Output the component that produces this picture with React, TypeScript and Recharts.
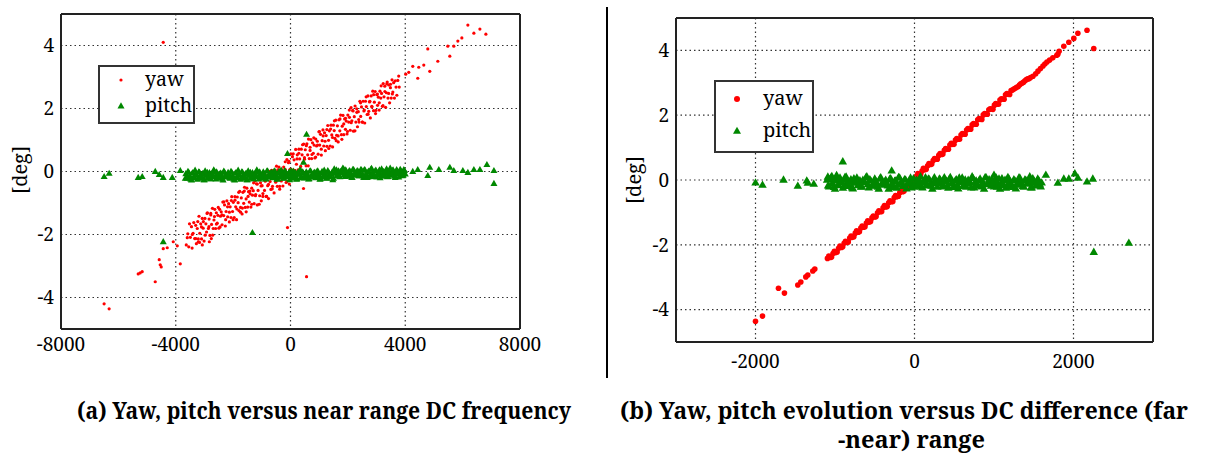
import React from 'react';
import { ScatterChart, Scatter, XAxis, YAxis, CartesianGrid, Legend } from 'recharts';

const YAW_COLOR = '#ff0000';
const PITCH_COLOR = '#008800';
const SERIF = "'Noto Serif', 'Liberation Serif', 'DejaVu Serif', serif";

// ---------- Panel (a) ----------
const A_X_LABEL_TICKS = [-8000, -4000, 0, 4000, 8000];
const A_X_MINOR_TICKS = [-7000, -6000, -5000, -3000, -2000, -1000, 1000, 2000, 3000, 5000, 6000, 7000];
const A_Y_LABEL_TICKS = [-4, -2, 0, 2, 4];
const A_Y_MINOR_TICKS = [-4.8, -4.4, -3.6, -3.2, -2.8, -2.4, -1.6, -1.2, -0.8, -0.4, 0.4, 0.8, 1.2, 1.6, 2.4, 2.8, 3.2, 3.6, 4.4, 4.8];

const A_YAW: [number, number][] = [
  [-6497, -4.2], [-6322, -4.36], [-5309, -3.25], [-5240, -3.22], [-5170, -3.18], [-4715, -3.5], [-4576, -2.8], [-4541, -2.96],
  [-4506, -3.03], [-4436, -2.45], [-4297, -2.42], [-4087, -2.23], [-3947, -2.36], [-3842, -2.93], [-3633, -2.33], [-3598, -2.1],
  [-3423, -2.0], [-3214, -2.23], [-3074, -2.33], [-2829, -2.23], [-2760, -2.13], [-4436, 4.1], [-105, -1.78], [454, -0.54], [559, -3.34],
  [3772, 3.03], [4017, 3.09], [4122, 3.15], [4262, 3.34], [4436, 2.96], [4471, 3.31], [4646, 3.38], [4785, 3.89],
  [4855, 3.18], [5135, 3.5], [5484, 3.98], [5554, 3.66], [5693, 3.98], [5833, 4.14], [5973, 4.24], [6183, 4.65],
  [6392, 4.39], [6602, 4.52], [6811, 4.36],
  [-3580, -1.98], [-3547, -2.39], [-3521, -1.66], [-3490, -2.09], [-3452, -1.75], [-3430, -2.43], [-3396, -1.96], [-3371, -1.62],
  [-3340, -2.13], [-3305, -1.71], [-3281, -2.29], [-3250, -1.81], [-3214, -2.14], [-3190, -1.42], [-3162, -1.96], [-3130, -1.66],
  [-3101, -2.14], [-3075, -1.49], [-3044, -1.8], [-3012, -2.21], [-2983, -1.49], [-2950, -1.66], [-2927, -1.92], [-2896, -1.31],
  [-2862, -1.81], [-2838, -1.51], [-2809, -2.03], [-2780, -1.33], [-2752, -1.68], [-2721, -1.17], [-2694, -1.81], [-2668, -1.54],
  [-2640, -1.2], [-2611, -1.81], [-2585, -1.31], [-2553, -1.64], [-2530, -1.39], [-2498, -1.8], [-2470, -1.2], [-2441, -1.42],
  [-2415, -1.28], [-2386, -1.69], [-2359, -0.97], [-2327, -1.4], [-2300, -1.06], [-2272, -1.73], [-2245, -1.27], [-2217, -0.93],
  [-2190, -1.44], [-2158, -1.02], [-2131, -1.6], [-2104, -1.12], [-2075, -1.46], [-2048, -0.8], [-2020, -1.27], [-1994, -0.98],
  [-1963, -1.46], [-1937, -0.8], [-1910, -1.12], [-1881, -1.53], [-1855, -0.81], [-1826, -0.99], [-1799, -1.24], [-1770, -0.63],
  [-1742, -1.14], [-1715, -0.84], [-1688, -1.35], [-1659, -0.66], [-1631, -1.01], [-1603, -0.5], [-1576, -1.14], [-1548, -0.87],
  [-1520, -0.53], [-1491, -1.13], [-1464, -0.64], [-1436, -0.97], [-1408, -0.71], [-1380, -1.13], [-1351, -0.53], [-1325, -0.75],
  [-1297, -0.61], [-1268, -1.02], [-1241, -0.3], [-1213, -0.73], [-1186, -0.39], [-1157, -1.06], [-1130, -0.6], [-1101, -0.26],
  [-1074, -0.77], [-1045, -0.36], [-1018, -0.93], [-990, -0.45], [-962, -0.79], [-935, -0.13], [-906, -0.6], [-879, -0.31],
  [-850, -0.79], [-822, -0.13], [-795, -0.45], [-766, -0.86], [-739, -0.14], [-711, -0.32], [-683, -0.57], [-655, 0.04],
  [-627, -0.47], [-600, -0.17], [-572, -0.68], [-543, 0.01], [-516, -0.34], [-488, 0.17], [-460, -0.47], [-433, -0.2],
  [-404, 0.14], [-377, -0.47], [-349, 0.03], [-320, -0.3], [-293, -0.05], [-265, -0.46], [-237, 0.14], [-209, -0.09],
  [-180, 0.06], [-153, -0.35], [-125, 0.38], [-97, -0.06], [-70, 0.28], [-41, -0.4], [-14, 0.07],
  [12, 0.56], [40, 0.05], [67, 0.47], [95, -0.11], [124, 0.37], [151, 0.04], [180, 0.7], [207, 0.23],
  [236, 0.53], [263, 0.05], [292, 0.71], [320, 0.4], [347, 0.02], [376, 0.71], [403, 0.53], [432, 0.28],
  [460, 0.87], [487, 0.39], [515, 0.69], [544, 0.18], [571, 0.88], [599, 0.53], [627, 1.03], [655, 0.41],
  [683, 0.67], [711, 1.01], [739, 0.41], [768, 0.91], [795, 0.58], [823, 0.84], [851, 0.43], [880, 1.03],
  [907, 0.81], [936, 0.96], [963, 0.55], [991, 1.26], [1019, 0.84], [1047, 1.18], [1075, 0.52], [1103, 0.98],
  [1131, 1.32], [1159, 0.81], [1187, 1.23], [1215, 0.66], [1243, 1.14], [1271, 0.8], [1299, 1.46], [1327, 0.99],
  [1355, 1.29], [1383, 0.81], [1411, 1.47], [1439, 1.16], [1467, 0.78], [1495, 1.47], [1523, 1.3], [1551, 1.05],
  [1579, 1.63], [1607, 1.15], [1635, 1.45], [1663, 0.94], [1691, 1.64], [1719, 1.29], [1747, 1.79], [1775, 1.17],
  [1803, 1.44], [1831, 1.78], [1859, 1.17], [1887, 1.67], [1915, 1.34], [1943, 1.6], [1971, 1.19], [1999, 1.79],
  [2027, 1.57], [2055, 1.72], [2083, 1.31], [2111, 2.03], [2139, 1.61], [2167, 1.94], [2195, 1.28], [2223, 1.74],
  [2251, 2.08], [2279, 1.57], [2307, 1.99], [2335, 1.42], [2363, 1.9], [2391, 1.57], [2419, 2.23], [2447, 1.75],
  [2475, 2.05], [2503, 1.57], [2531, 2.23], [2559, 1.92], [2587, 1.54], [2615, 2.23], [2643, 2.06], [2671, 1.81],
  [2699, 2.4], [2727, 1.91], [2755, 2.21], [2783, 1.7], [2811, 2.4], [2839, 2.05], [2867, 2.55], [2895, 1.93],
  [2923, 2.2], [2951, 2.54], [2979, 1.94], [3007, 2.44], [3035, 2.1], [3063, 2.36], [3091, 1.95], [3119, 2.55],
  [3147, 2.33], [3175, 2.48], [3203, 2.07], [3231, 2.79], [3259, 2.37], [3287, 2.71], [3315, 2.04], [3343, 2.5],
  [3371, 2.84], [3399, 2.33], [3427, 2.75], [3455, 2.18], [3483, 2.66], [3511, 2.33], [3539, 2.91], [3567, 2.52],
  [3595, 2.82], [3623, 2.33], [3651, 2.88], [3679, 2.68], [3707, 2.42], [3740, 2.89], [3790, 2.68],
  [-3300, -2.13], [-3232, -1.59], [-3171, -2.25], [-3104, -1.76], [-3038, -1.59], [-2975, -2.02], [-2908, -1.33], [-2844, -1.75],
  [-2779, -1.38], [-2713, -2.02], [-2650, -1.43], [-2583, -1.67], [-2519, -1.14], [-2455, -1.76], [-2390, -1.38], [-2322, -0.96],
  [-2260, -1.53], [-2194, -1.12], [-2130, -1.29], [-2063, -0.92], [-1999, -1.53], [-1935, -0.91], [-1869, -1.19], [-1805, -0.66],
  [-1740, -1.29], [-1676, -1.16], [-1610, -0.62], [-1545, -1.28], [-1480, -0.79], [-1414, -0.62], [-1350, -1.04], [-1286, -0.36],
  [-1221, -0.77], [-1156, -0.4], [-1090, -1.04], [-1026, -0.46], [-961, -0.7], [-897, -0.17], [-831, -0.79], [-766, -0.41],
  [-702, 0.01], [-637, -0.55], [-571, -0.14], [-507, -0.31], [-443, 0.05], [-377, -0.56], [-312, 0.06], [-248, -0.22],
  [-183, 0.31], [-118, -0.32], [-53, 0.32], [30, 0.02], [95, 0.56], [160, -0.09], [226, 0.4], [291, 0.58],
  [356, 0.16], [421, 0.85], [487, 0.44], [552, 0.82], [617, 0.18], [682, 0.77], [748, 0.54], [812, 1.07],
  [878, 0.46], [943, 0.84], [1008, 1.27], [1073, 0.71], [1139, 1.13], [1204, 0.96], [1268, 1.33], [1334, 0.73],
  [1400, 1.35], [1464, 1.08], [1530, 1.61], [1594, 0.98], [1660, 1.13], [1725, 1.67], [1790, 1.02], [1856, 1.51],
  [1920, 1.69], [1986, 1.27], [2050, 1.95], [2116, 1.55], [2181, 1.92], [2246, 1.29], [2312, 1.88], [2377, 1.65],
  [2442, 2.18], [2507, 1.57], [2572, 1.95], [2638, 2.37], [2703, 1.82], [2768, 2.23], [2834, 2.07], [2898, 2.44],
  [2964, 1.84], [3030, 2.46], [3094, 2.18], [3160, 2.72], [3225, 2.09], [3290, 2.54], [3356, 2.78], [3420, 2.48],
  [3486, 2.77], [3550, 2.46],
];

const A_PITCH: [number, number][] = [
  [-6497, -0.16], [-6322, -0.06], [-5309, -0.19], [-5170, -0.16], [-4715, 0.0], [-4576, -0.1], [-4436, -0.19], [-4436, -2.23],
  [-4122, -0.19], [-3842, 0.03], [-3668, -0.22], [-1327, -1.94], [559, 1.18], [-105, 0.57], [454, 0.29], [210, -0.25],
  [4262, 0.0], [4436, 0.06], [4785, -0.13], [4855, 0.13], [5170, 0.06], [5554, 0.13], [5693, 0.03], [6008, 0.03],
  [6183, -0.03], [6392, 0.06], [6602, 0.06], [6846, 0.22], [7091, 0.03], [7091, -0.38],
  [-3650, -0.07], [-3600, -0.22], [-3550, -0.02], [-3500, -0.16], [-3450, -0.27], [-3400, -0.04], [-3350, -0.19], [-3300, -0.1],
  [-3250, -0.25], [-3200, -0.01], [-3150, -0.14], [-3100, -0.21], [-3050, -0.06], [-3000, -0.26], [-2950, -0.12], [-2900, -0.03],
  [-2850, -0.18], [-2800, -0.23], [-2750, -0.08], [-2700, -0.13], [-2650, 0.0], [-2600, -0.24], [-2550, -0.09], [-2500, -0.2],
  [-2450, -0.05], [-2400, -0.17], [-2350, -0.27], [-2300, -0.02], [-2250, -0.15], [-2200, -0.11], [-2150, -0.07], [-2100, -0.22],
  [-2050, -0.02], [-2000, -0.16], [-1950, -0.27], [-1900, -0.04], [-1850, -0.19], [-1800, -0.1], [-1750, -0.25], [-1700, -0.01],
  [-1650, -0.14], [-1600, -0.21], [-1550, -0.06], [-1500, -0.26], [-1450, -0.12], [-1400, -0.03], [-1350, -0.18], [-1300, -0.23],
  [-1250, -0.08], [-1200, -0.13], [-1150, 0.0], [-1100, -0.24], [-1050, -0.09], [-1000, -0.16], [-950, -0.01], [-900, -0.13],
  [-850, -0.23], [-800, 0.02], [-750, -0.11], [-700, -0.07], [-650, -0.03], [-600, -0.18], [-550, 0.02], [-500, -0.12],
  [-450, -0.23], [-400, 0.0], [-350, -0.15], [-300, -0.06], [-250, -0.21], [-200, 0.03], [-150, -0.1], [-100, -0.17],
  [-50, -0.02], [0, -0.22], [50, -0.08], [100, 0.01], [150, -0.14], [200, -0.19], [250, -0.04], [300, -0.09],
  [350, 0.04], [400, -0.2], [450, -0.05], [500, -0.16], [550, -0.01], [600, -0.13], [650, -0.23], [700, 0.02],
  [750, -0.11], [800, -0.07], [850, -0.03], [900, -0.18], [950, 0.02], [1000, -0.12], [1050, -0.23], [1100, 0.0],
  [1150, -0.15], [1200, -0.06], [1250, -0.21], [1300, 0.03], [1350, -0.1], [1400, -0.17], [1450, -0.02], [1500, -0.22],
  [1550, -0.04], [1600, 0.05], [1650, -0.1], [1700, -0.15], [1750, 0.0], [1800, -0.05], [1850, 0.08], [1900, -0.16],
  [1950, -0.01], [2000, -0.12], [2050, 0.03], [2100, -0.09], [2150, -0.19], [2200, 0.06], [2250, -0.07], [2300, -0.03],
  [2350, 0.01], [2400, -0.14], [2450, 0.06], [2500, -0.08], [2550, -0.19], [2600, 0.04], [2650, -0.11], [2700, -0.02],
  [2750, -0.17], [2800, 0.07], [2850, -0.06], [2900, -0.13], [2950, 0.02], [3000, -0.18], [3050, -0.04], [3100, 0.05],
  [3150, -0.1], [3200, -0.15], [3250, 0.0], [3300, -0.05], [3350, 0.08], [3400, -0.16], [3450, -0.01], [3500, -0.12],
  [3550, 0.03], [3600, -0.09], [3650, -0.19], [3700, 0.06], [3750, -0.07], [3800, -0.03], [3850, 0.01], [3900, -0.14],
  [3950, 0.06], [4000, -0.08],
  [-3625, -0.2], [-3575, 0.0], [-3525, -0.14], [-3475, -0.25], [-3425, -0.05], [-3375, -0.17], [-3325, 0.04], [-3275, -0.1],
  [-3225, -0.22], [-3175, -0.02], [-3125, -0.15], [-3075, -0.08], [-3025, -0.26], [-2975, 0.02], [-2925, -0.12], [-2875, -0.19],
  [-2825, -0.04], [-2775, -0.23], [-2725, -0.09], [-2675, 0.05], [-2625, -0.16], [-2575, -0.01], [-2525, -0.21], [-2475, -0.11],
  [-2425, -0.06], [-2375, -0.24], [-2325, 0.01], [-2275, -0.13], [-2225, -0.18], [-2175, -0.03], [-2125, -0.2], [-2075, 0.0],
  [-2025, -0.14], [-1975, -0.25], [-1925, -0.05], [-1875, -0.17], [-1825, 0.04], [-1775, -0.1], [-1725, -0.22], [-1675, -0.02],
  [-1625, -0.15], [-1575, -0.08], [-1525, -0.26], [-1475, 0.02], [-1425, -0.12], [-1375, -0.19], [-1325, -0.04], [-1275, -0.23],
  [-1225, -0.09], [-1175, 0.05], [-1125, -0.16], [-1075, -0.01], [-1025, -0.21], [-975, -0.11], [-925, -0.06], [-875, -0.24],
  [-825, 0.01], [-775, -0.13], [-725, -0.18], [-675, -0.03], [-625, -0.2], [-575, 0.0], [-525, -0.14], [-475, -0.25],
  [-425, -0.05], [-375, -0.17], [-325, 0.04], [-275, -0.1], [-225, -0.22], [-175, -0.02], [-125, -0.15], [-75, -0.08],
  [-25, -0.26], [25, 0.02], [75, -0.12], [125, -0.19], [175, -0.04], [225, -0.23], [275, -0.09], [325, 0.05],
  [375, -0.16], [425, -0.01], [475, -0.21], [525, -0.11], [575, -0.06], [625, -0.24], [675, 0.01], [725, -0.13],
  [775, -0.18], [825, -0.03], [875, -0.2], [925, 0.0], [975, -0.14], [1025, -0.25], [1075, -0.05], [1125, -0.17],
  [1175, 0.04], [1225, -0.1], [1275, -0.22], [1325, -0.02], [1375, -0.15], [1425, -0.08], [1475, -0.26], [1525, 0.08],
  [1575, -0.06], [1625, -0.13], [1675, 0.02], [1725, -0.17], [1775, -0.03], [1825, 0.11], [1875, -0.1], [1925, 0.05],
  [1975, -0.15], [2025, -0.05], [2075, 0.0], [2125, -0.18], [2175, 0.07], [2225, -0.07], [2275, -0.12], [2325, 0.03],
  [2375, -0.14], [2425, -0.07], [2475, 0.05], [2525, -0.14], [2575, 0.06], [2625, -0.08], [2675, -0.19], [2725, 0.01],
  [2775, -0.11], [2825, 0.1], [2875, -0.04], [2925, -0.16], [2975, 0.04], [3025, -0.09], [3075, -0.02], [3125, -0.2],
  [3175, 0.08], [3225, -0.06], [3275, -0.13], [3325, 0.02], [3375, -0.17], [3425, -0.03], [3475, 0.11], [3525, -0.1],
  [3575, 0.05], [3625, -0.15], [3675, -0.05], [3725, 0.0], [3775, -0.18], [3825, 0.07], [3875, -0.07], [3925, -0.12],
  [3975, 0.03],
];

// ---------- Panel (b) ----------
const B_X_LABEL_TICKS = [-2000, 0, 2000];
const B_X_MINOR_TICKS = [-1000, 1000];
const B_Y_LABEL_TICKS = [-4, -2, 0, 2, 4];
const B_Y_MINOR_TICKS = [-3, -1, 1, 3];

const B_YAW: [number, number][] = [
  [-2000, -4.36], [-1912, -4.2], [-1711, -3.34], [-1636, -3.49], [-1468, -3.24], [-1430, -3.15], [-1367, -2.99], [-1342, -2.93],
  [-1279, -2.81], [-1254, -2.75],
  [-1095, -2.42], [-1060, -2.39], [-1025, -2.27], [-990, -2.24], [-955, -2.11], [-920, -2.08], [-885, -1.95], [-850, -1.93],
  [-815, -1.79], [-780, -1.77], [-745, -1.64], [-710, -1.61], [-675, -1.48], [-640, -1.46], [-605, -1.33], [-570, -1.3],
  [-535, -1.17], [-500, -1.14], [-465, -1.01], [-430, -0.98], [-395, -0.86], [-360, -0.83], [-325, -0.7], [-290, -0.67],
  [-255, -0.54], [-220, -0.52], [-185, -0.39], [-150, -0.36], [-115, -0.23], [-80, -0.2], [-45, -0.08], [-10, -0.05],
  [25, 0.12], [60, 0.16], [95, 0.28], [130, 0.32], [165, 0.44], [200, 0.48], [235, 0.6], [270, 0.64],
  [305, 0.76], [340, 0.79], [375, 0.92], [410, 0.95], [445, 1.08], [480, 1.1], [515, 1.23], [550, 1.26],
  [585, 1.39], [620, 1.42], [655, 1.54], [690, 1.57], [725, 1.7], [760, 1.73], [795, 1.86], [830, 1.88],
  [865, 2.01], [900, 2.04], [935, 2.17], [970, 2.19], [1005, 2.31], [1040, 2.34], [1075, 2.47], [1110, 2.5],
  [1145, 2.63], [1180, 2.65], [1215, 2.76], [1250, 2.81], [1285, 2.86], [1320, 2.93], [1355, 2.99], [1390, 3.06], [1425, 3.12],
  [-1078, -2.35], [-1043, -2.38], [-1008, -2.2], [-973, -2.22], [-938, -2.04], [-903, -2.06], [-868, -1.89], [-833, -1.91],
  [-798, -1.73], [-763, -1.75], [-728, -1.57], [-693, -1.6], [-658, -1.42], [-623, -1.44], [-588, -1.26], [-553, -1.28],
  [-518, -1.11], [-483, -1.13], [-448, -0.95], [-413, -0.97], [-378, -0.79], [-343, -0.82], [-308, -0.64], [-273, -0.66],
  [-238, -0.48], [-203, -0.5], [-168, -0.33], [-133, -0.35], [-98, -0.17], [-63, -0.19], [-28, -0.01], [7, 0.03],
  [42, 0.2], [77, 0.18], [112, 0.36], [147, 0.33], [182, 0.51], [217, 0.49], [252, 0.66], [287, 0.64],
  [322, 0.82], [357, 0.8], [392, 0.97], [427, 0.95], [462, 1.13], [497, 1.1], [532, 1.28], [567, 1.26],
  [602, 1.43], [637, 1.41], [672, 1.59], [707, 1.57], [742, 1.74], [777, 1.72], [812, 1.9], [847, 1.87],
  [882, 2.05], [917, 2.03], [952, 2.2], [987, 2.18], [1022, 2.36], [1057, 2.34], [1092, 2.51], [1127, 2.49],
  [1162, 2.67], [1197, 2.64], [1232, 2.78], [1267, 2.83], [1302, 2.88], [1337, 2.97], [1372, 3.02], [1407, 3.1], [1442, 3.13],
  [1460, 3.16], [1490, 3.2], [1525, 3.28], [1553, 3.36], [1585, 3.44], [1616, 3.52], [1640, 3.58], [1666, 3.64], [1700, 3.7],
  [1740, 3.77], [1790, 3.85], [1803, 3.88], [1819, 3.97], [1878, 4.13], [1941, 4.25], [2004, 4.37], [2055, 4.53],
  [2170, 4.62], [2255, 4.06],
];

const B_PITCH: [number, number][] = [
  [-2000, -0.08], [-1912, -0.15], [-1648, 0.01], [-1468, -0.18], [-1355, -0.02], [-1342, -0.09], [-1267, -0.12], [-902, 0.57],
  [-287, 0.29], [1652, 0.16], [1803, -0.09], [1878, 0.04], [1941, 0.04], [2017, 0.2], [2055, 0.07], [2170, -0.05],
  [2243, 0.04], [2255, -2.22], [2696, -1.94], [1000, 0.16], [-1040, 0.12], [-980, 0.15], [-860, 0.1], [-1090, 0.1],
  [-1100, 0.01], [-1075, -0.2], [-1050, 0.08], [-1025, -0.12], [-1000, -0.27], [-975, 0.05], [-950, -0.16], [-925, -0.03],
  [-900, -0.24], [-875, 0.09], [-850, -0.09], [-825, -0.19], [-800, 0.02], [-775, -0.26], [-750, -0.06], [-725, 0.07],
  [-700, -0.14], [-675, -0.21], [-650, 0.0], [-625, -0.07], [-600, 0.11], [-575, -0.23], [-550, -0.02], [-525, -0.17],
  [-500, 0.04], [-475, -0.13], [-450, -0.27], [-425, 0.08], [-400, -0.1], [-375, -0.05], [-350, -0.12], [-325, -0.27],
  [-300, 0.05], [-275, -0.16], [-250, -0.03], [-225, -0.24], [-200, 0.09], [-175, -0.09], [-150, -0.19], [-125, 0.02],
  [-100, -0.26], [-75, -0.06], [-50, 0.07], [-25, -0.14], [0, -0.21], [25, 0.0], [50, -0.07], [75, 0.11],
  [100, -0.23], [125, -0.02], [150, -0.17], [175, 0.04], [200, -0.13], [225, -0.27], [250, 0.08], [275, -0.1],
  [300, -0.05], [325, 0.01], [350, -0.2], [375, 0.08], [400, -0.03], [425, -0.24], [450, 0.09], [475, -0.09],
  [500, -0.19], [525, 0.02], [550, -0.26], [575, -0.06], [600, 0.07], [625, -0.14], [650, -0.21], [675, 0.0],
  [700, -0.07], [725, 0.11], [750, -0.23], [775, -0.02], [800, -0.17], [825, 0.04], [850, -0.13], [875, -0.27],
  [900, 0.08], [925, -0.1], [950, -0.05], [975, 0.01], [1000, -0.2], [1025, 0.08], [1050, -0.12], [1075, -0.27],
  [1100, 0.05], [1125, -0.16], [1150, -0.24], [1175, 0.09], [1200, -0.09], [1225, -0.19], [1250, 0.02], [1275, -0.26],
  [1300, -0.06], [1325, 0.07], [1350, -0.14], [1375, -0.21], [1400, 0.0], [1425, -0.07], [1450, 0.11], [1475, -0.23],
  [1500, -0.02], [1525, -0.17], [1550, 0.04], [1575, -0.13], [1600, -0.08],
  [-1087, -0.17], [-1062, 0.03], [-1037, -0.11], [-1012, -0.22], [-987, -0.02], [-962, -0.14], [-937, 0.07], [-912, -0.07],
  [-887, -0.19], [-862, 0.01], [-837, -0.12], [-812, -0.05], [-787, -0.23], [-762, 0.05], [-737, -0.09], [-712, -0.16],
  [-687, -0.01], [-662, -0.2], [-637, -0.06], [-612, 0.08], [-587, -0.13], [-562, 0.02], [-537, -0.18], [-512, -0.08],
  [-487, -0.03], [-462, -0.21], [-437, 0.04], [-412, -0.1], [-387, -0.15], [-362, 0.0], [-337, -0.17], [-312, 0.03],
  [-287, -0.11], [-262, -0.22], [-237, -0.02], [-212, -0.14], [-187, 0.07], [-162, -0.07], [-137, -0.19], [-112, 0.01],
  [-87, -0.12], [-62, -0.05], [-37, -0.23], [-12, 0.05], [13, -0.09], [38, -0.16], [63, -0.01], [88, -0.2],
  [113, -0.06], [138, 0.08], [163, -0.13], [188, 0.02], [213, -0.18], [238, -0.08], [263, -0.03], [288, -0.21],
  [313, 0.04], [338, -0.1], [363, -0.15], [388, 0.0], [413, -0.17], [438, 0.03], [463, -0.11], [488, -0.22],
  [513, -0.02], [538, -0.14], [563, 0.07], [588, -0.07], [613, -0.19], [638, 0.01], [663, -0.12], [688, -0.05],
  [713, -0.23], [738, 0.05], [763, -0.09], [788, -0.16], [813, -0.01], [838, -0.2], [863, -0.06], [888, 0.08],
  [913, -0.13], [938, 0.02], [963, -0.18], [988, -0.08], [1013, -0.03], [1038, -0.21], [1063, 0.04], [1088, -0.1],
  [1113, -0.15], [1138, 0.0], [1163, -0.17], [1188, 0.03], [1213, -0.11], [1238, -0.22], [1263, -0.02], [1288, -0.14],
  [1313, 0.07], [1338, -0.07], [1363, -0.19], [1388, 0.01], [1413, -0.12], [1438, -0.05], [1463, -0.23], [1488, 0.05],
  [1513, -0.09], [1538, -0.16], [1563, -0.01], [1588, -0.2],
];

const SERIES_ORDER = ['yaw', 'pitch'];

const toPoints = (arr: [number, number][]) => arr.map(([x, y]) => ({ x, y }));

const dotShape = (r: number, color: string) => (p: any) => (
  <circle cx={p.cx} cy={p.cy} r={r} fill={color} />
);
const triShape = (w: number, color: string) => (p: any) => {
  const h = w * 0.87;
  return (
    <polygon
      points={`${p.cx},${p.cy - h * 0.6} ${p.cx - w / 2},${p.cy + h * 0.4} ${p.cx + w / 2},${p.cy + h * 0.4}`}
      fill={color}
    />
  );
};

type LegendCfg = { w: number; h: number; rows: number[]; markerX: number; textX: number; dotR: number; triW: number; fontSize: number };

const makeLegend = (cfg: LegendCfg) => (props: any) => {
  const payload = [...(props.payload || [])].sort(
    (a: any, b: any) => SERIES_ORDER.indexOf(a.value) - SERIES_ORDER.indexOf(b.value)
  );
  return (
    <div
      style={{
        position: 'relative',
        width: cfg.w,
        height: cfg.h,
        boxSizing: 'border-box',
        border: '2px solid #333',
        background: '#fff',
      }}
    >
      <svg width={cfg.w} height={cfg.h} style={{ position: 'absolute', left: -2, top: -2, overflow: 'visible' }}>
        {payload.map((e: any, i: number) => {
          const cy = cfg.rows[i];
          const cx = cfg.markerX;
          if (e.type === 'triangle') {
            const w = cfg.triW;
            const h = w * 0.87;
            return (
              <polygon
                key={i}
                points={`${cx},${cy - h * 0.6} ${cx - w / 2},${cy + h * 0.4} ${cx + w / 2},${cy + h * 0.4}`}
                fill={e.color}
              />
            );
          }
          return <circle key={i} cx={cx} cy={cy} r={cfg.dotR} fill={e.color} />;
        })}
      </svg>
      {payload.map((e: any, i: number) => (
        <span
          key={'t' + i}
          style={{
            position: 'absolute',
            left: cfg.textX - 2,
            top: cfg.rows[i] - 2 - 14,
            fontFamily: SERIF,
            fontSize: cfg.fontSize,
            lineHeight: '26px',
            color: '#000',
            whiteSpace: 'nowrap',
          }}
        >
          {e.value}
        </span>
      ))}
    </div>
  );
};

const tickStyle = { fill: '#000', fontSize: 19, fontFamily: SERIF };
const lineStyle = { stroke: '#222', strokeWidth: 2 };
const tickLineStyle = { stroke: '#222', strokeWidth: 1.6 };

const PanelA = () => (
  <ScatterChart width={600} height={380} margin={{ top: 14, left: 60, right: 80, bottom: 50 }}>
    <CartesianGrid xAxisId="x" yAxisId="y" stroke="#333" strokeWidth={1.2} strokeDasharray="1.5 3" />
    <XAxis xAxisId="x" dataKey="x" type="number" domain={[-8000, 8000]} allowDataOverflow ticks={A_X_LABEL_TICKS}
      interval={0} height={1} tickLine={false} tickSize={0} tickMargin={9} axisLine={lineStyle} tick={tickStyle} />
    <XAxis xAxisId="xm" type="number" domain={[-8000, 8000]} allowDataOverflow ticks={A_X_MINOR_TICKS} mirror
      interval={0} height={1} tickSize={8} tickLine={tickLineStyle} axisLine={false} tick={false} />
    <XAxis xAxisId="xt" orientation="top" type="number" domain={[-8000, 8000]} allowDataOverflow ticks={A_X_MINOR_TICKS} mirror
      interval={0} height={1} tickSize={8} tickLine={tickLineStyle} axisLine={lineStyle} tick={false} />
    <YAxis yAxisId="y" dataKey="y" type="number" domain={[-5, 5]} allowDataOverflow ticks={A_Y_LABEL_TICKS}
      interval={0} width={1} tickLine={false} tickSize={0} tickMargin={7} axisLine={lineStyle} tick={tickStyle} />
    <YAxis yAxisId="ym" type="number" domain={[-5, 5]} allowDataOverflow ticks={A_Y_MINOR_TICKS} mirror
      interval={0} width={1} tickSize={8} tickLine={tickLineStyle} axisLine={false} tick={false} />
    <YAxis yAxisId="yr" orientation="right" type="number" domain={[-5, 5]} allowDataOverflow ticks={A_Y_MINOR_TICKS} mirror
      interval={0} width={1} tickSize={8} tickLine={tickLineStyle} axisLine={lineStyle} tick={false} />
    <Legend layout="vertical" align="center" verticalAlign="middle" wrapperStyle={{ left: 98, top: 65, width: 97, height: 59 }}
      content={makeLegend({ w: 97, h: 59, rows: [15, 41], markerX: 23, textX: 47, dotR: 1.6, triW: 7, fontSize: 19.5 })} />
    <Scatter name="yaw" data={toPoints(A_YAW)} xAxisId="x" yAxisId="y" fill={YAW_COLOR} legendType="circle"
      shape={dotShape(1.6, YAW_COLOR)} isAnimationActive={false} />
    <Scatter name="pitch" data={toPoints(A_PITCH)} xAxisId="x" yAxisId="y" fill={PITCH_COLOR} legendType="triangle"
      shape={triShape(7, PITCH_COLOR)} isAnimationActive={false} />
  </ScatterChart>
);

const PanelB = () => (
  <ScatterChart width={595} height={380} margin={{ top: 18, left: 65, right: 52, bottom: 37 }}>
    <CartesianGrid xAxisId="x" yAxisId="y" stroke="#333" strokeWidth={1.2} strokeDasharray="1.5 3" />
    <XAxis xAxisId="x" dataKey="x" type="number" domain={[-3000, 3000]} allowDataOverflow ticks={B_X_LABEL_TICKS}
      interval={0} height={1} tickLine={false} tickSize={0} tickMargin={13} axisLine={lineStyle} tick={tickStyle} />
    <XAxis xAxisId="xm" type="number" domain={[-3000, 3000]} allowDataOverflow ticks={B_X_MINOR_TICKS} mirror
      interval={0} height={1} tickSize={10} tickLine={tickLineStyle} axisLine={false} tick={false} />
    <XAxis xAxisId="xt" orientation="top" type="number" domain={[-3000, 3000]} allowDataOverflow ticks={B_X_MINOR_TICKS} mirror
      interval={0} height={1} tickSize={10} tickLine={tickLineStyle} axisLine={lineStyle} tick={false} />
    <YAxis yAxisId="y" dataKey="y" type="number" domain={[-5, 5]} allowDataOverflow ticks={B_Y_LABEL_TICKS}
      interval={0} width={1} tickLine={false} tickSize={0} tickMargin={7} axisLine={lineStyle} tick={tickStyle} />
    <YAxis yAxisId="ym" type="number" domain={[-5, 5]} allowDataOverflow ticks={B_Y_MINOR_TICKS} mirror
      interval={0} width={1} tickSize={7} tickLine={tickLineStyle} axisLine={false} tick={false} />
    <YAxis yAxisId="yr" orientation="right" type="number" domain={[-5, 5]} allowDataOverflow ticks={B_Y_MINOR_TICKS} mirror
      interval={0} width={1} tickSize={7} tickLine={tickLineStyle} axisLine={lineStyle} tick={false} />
    <Legend layout="vertical" align="center" verticalAlign="middle" wrapperStyle={{ left: 104, top: 80, width: 100, height: 73 }}
      content={makeLegend({ w: 100, h: 73, rows: [19, 51], markerX: 23, textX: 49, dotR: 3, triW: 8, fontSize: 20 })} />
    <Scatter name="yaw" data={toPoints(B_YAW)} xAxisId="x" yAxisId="y" fill={YAW_COLOR} legendType="circle"
      shape={dotShape(2.8, YAW_COLOR)} isAnimationActive={false} />
    <Scatter name="pitch" data={toPoints(B_PITCH)} xAxisId="x" yAxisId="y" fill={PITCH_COLOR} legendType="triangle"
      shape={triShape(8.5, PITCH_COLOR)} isAnimationActive={false} />
  </ScatterChart>
);

export default function App() {
  return (
    <div style={{ position: 'absolute', left: 0, top: 0, width: 1205, height: 454, background: '#fff', overflow: 'hidden' }}>
      <div style={{ position: 'absolute', left: 0, top: 0 }}>
        <PanelA />
      </div>
      <div style={{ position: 'absolute', left: 610, top: 0 }}>
        <PanelB />
      </div>
      <div style={{ position: 'absolute', left: 606, top: 7, width: 2, height: 371, background: '#000' }} />
      <svg width={1205} height={454} style={{ position: 'absolute', left: 0, top: 0, pointerEvents: 'none' }}>
        <text x={19} y={170} transform="rotate(-90 19 170)" textAnchor="middle" dominantBaseline="central"
          fontFamily={SERIF} fontSize={20} fill="#000">[deg]</text>
        <text x={633} y={180} transform="rotate(-90 633 180)" textAnchor="middle" dominantBaseline="central"
          fontFamily={SERIF} fontSize={20} fill="#000">[deg]</text>
        <text x={77} y={419} textLength={494} lengthAdjust="spacingAndGlyphs" fontFamily={SERIF} fontWeight="bold"
          fontSize={23} fill="#000">(a) Yaw, pitch versus near range DC frequency</text>
        <text x={620} y={419} textLength={568} lengthAdjust="spacingAndGlyphs" fontFamily={SERIF} fontWeight="bold"
          fontSize={23} fill="#000">(b) Yaw, pitch evolution versus DC difference (far</text>
        <text x={838} y={448} textLength={147} lengthAdjust="spacingAndGlyphs" fontFamily={SERIF} fontWeight="bold"
          fontSize={23} fill="#000">-near) range</text>
      </svg>
    </div>
  );
}
